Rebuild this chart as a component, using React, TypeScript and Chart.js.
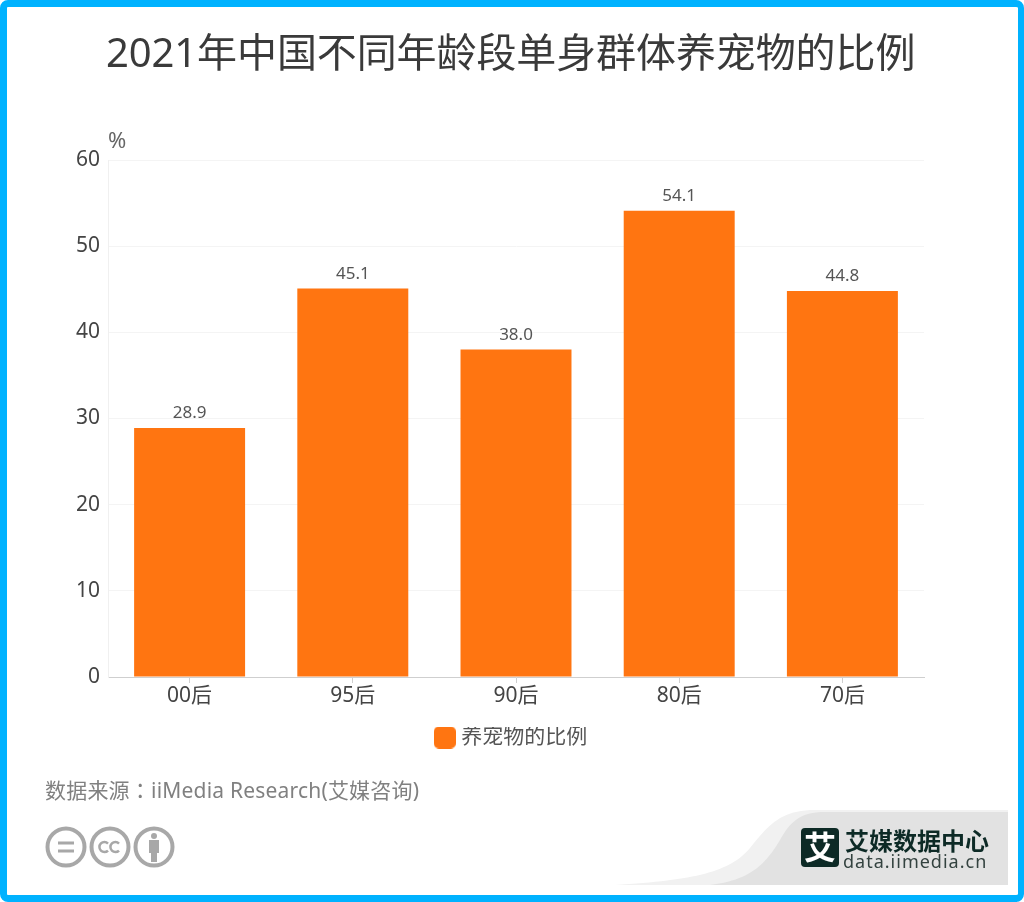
import React, { useRef, useEffect } from 'react';
import { Chart, registerables, Plugin } from 'chart.js';

Chart.register(...registerables);

const categories = ['00后', '95后', '90后', '80后', '70后'];
const petShare = [28.9, 45.1, 38.0, 54.1, 44.8];
const yTicks = [0, 10, 20, 30, 40, 50, 60];
const seriesName = '养宠物的比例';

const titleText = '2021年中国不同年龄段单身群体养宠物的比例';

const FONT = '"Noto Sans", "Noto Sans CJK SC", sans-serif';
const ORANGE = '#ff7511';
const BLUE = '#00b2ff';

// value labels above each bar
const barLabels: Plugin<'bar'> = {
  id: 'barLabels',
  afterDatasetsDraw(chart) {
    const { ctx } = chart;
    ctx.save();
    ctx.font = `17px ${FONT}`;
    ctx.fillStyle = '#555';
    ctx.textAlign = 'center';
    ctx.textBaseline = 'bottom';
    chart.getDatasetMeta(0).data.forEach((bar, i) => {
      ctx.fillText(petShare[i].toFixed(1), bar.x, bar.y - 6);
    });
    ctx.restore();
  },
};

// built-in legend centres on the chart area, the reference sits a little left of that
const legendShift: Plugin<'bar'> = {
  id: 'legendShift',
  afterLayout(chart) {
    if (chart.legend) {
      chart.legend.left -= 3;
      chart.legend.right -= 3;
    }
  },
};

// rounded swatch for the legend, the built-in rectRounded is too round
const makeSwatch = () => {
  const c = document.createElement('canvas');
  c.width = 22;
  c.height = 22;
  const g = c.getContext('2d')!;
  g.fillStyle = ORANGE;
  g.beginPath();
  g.roundRect(0, 0, 22, 22, 5);
  g.fill();
  return c;
};

const text = (left: number, top: number, size: number, color: string): React.CSSProperties => ({
  position: 'absolute',
  left,
  top,
  fontSize: size,
  lineHeight: 1,
  color,
  fontFamily: FONT,
  whiteSpace: 'nowrap',
});

const App: React.FC = () => {
  const canvasRef = useRef<HTMLCanvasElement | null>(null);

  useEffect(() => {
    const ctx = canvasRef.current?.getContext('2d');
    if (!ctx) return;

    const chart = new Chart(ctx, {
      type: 'bar',
      data: {
        labels: categories,
        datasets: [{
          label: seriesName,
          data: petShare,
          backgroundColor: ORANGE,
          barPercentage: 0.68,
          categoryPercentage: 1,
        }],
      },
      options: {
        responsive: false,
        animation: false,
        layout: { padding: { top: 160, right: 100, bottom: 144, left: 0 } },
        plugins: {
          tooltip: { enabled: false },
          legend: {
            position: 'bottom',
            fullSize: false,
            labels: {
              usePointStyle: true,
              pointStyle: makeSwatch(),
              pointStyleWidth: 12,
              boxHeight: 21,
              color: '#555',
              font: { family: FONT, size: 21 },
              padding: 0,
            },
          },
        },
        scales: {
          x: {
            grid: { drawOnChartArea: false, offset: false, color: '#cfcfcf', tickLength: 6 },
            border: { color: '#cfcfcf' },
            ticks: { color: '#444', font: { family: FONT, size: 21 }, padding: 0 },
            afterFit(scale) { scale.height = 50; },
          },
          y: {
            min: 0,
            max: 60,
            afterBuildTicks(scale) { scale.ticks = yTicks.map((value) => ({ value })); },
            grid: { color: '#f4f4f4', drawTicks: false },
            border: { color: '#f0f0f0' },
            ticks: { color: '#444', font: { family: FONT, size: 21 }, padding: 8 },
            afterFit(scale) { scale.width = 108; },
          },
        },
      },
      plugins: [barLabels, legendShift],
    });

    return () => chart.destroy();
  }, []);

  return (
    <div style={{ position: 'absolute', left: 0, top: 0, width: 1024, height: 902, background: '#fff', overflow: 'hidden' }}>
      <canvas ref={canvasRef} width={1024} height={902} style={{ position: 'absolute', left: 0, top: 0 }} />

      <div style={{ ...text(106, 32, 40, '#3a3a3a'), letterSpacing: -0.1 }}>{titleText}</div>
      <div style={text(108, 128, 22, '#666')}>%</div>
      <div style={{ ...text(45, 779, 21, '#808080'), letterSpacing: 0.2 }}>
        数据来源<span style={{ fontFamily: '"Noto Sans CJK TC"' }}>：</span>iiMedia Research(艾媒咨询)
      </div>

      {/* licence badges */}
      <svg width={132} height={44} style={{ position: 'absolute', left: 44, top: 825 }} fill="none" stroke="#a8a8a8" strokeWidth={4}>
        <circle cx={22} cy={22} r={18.5} />
        <circle cx={66} cy={22} r={18.5} />
        <circle cx={110} cy={22} r={18.5} />
        <path d="M14 18h16M14 26h16" strokeWidth={3} />
        <path d="M64 18.5a5 5 0 1 0 0 7M75 18.5a5 5 0 1 0 0 7" strokeWidth={2.5} />
        <circle cx={110} cy={11} r={3} fill="#a8a8a8" stroke="none" />
        <path d="M105 15h10v13h-2v9h-6v-9h-2z" fill="#a8a8a8" stroke="none" />
      </svg>

      {/* logo block */}
      <svg width={424} height={112} style={{ position: 'absolute', left: 600, top: 790 }}>
        <path d="M15 95C95 90 130 82 150 58C168 36 180 20 215 20H408V95Z" fill="#f1f1f1" />
        <path d="M110 95C150 90 165 75 180 50C190 32 200 22 225 22H408V95Z" fill="#e2e2e2" />
        <rect x={201} y={38} width={38} height={39} rx={4} fill="#0d2a26" />
      </svg>
      <div style={{ ...text(804, 831, 32, '#fff'), fontWeight: 700 }}>艾</div>
      <div style={{ ...text(845, 829, 24, '#0d2a26'), fontWeight: 700 }}>艾媒数据中心</div>
      <div style={{ ...text(843, 852, 18, '#33423f'), letterSpacing: 1 }}>data.iimedia.cn</div>

      {/* frame */}
      <div style={{ position: 'absolute', inset: 0, border: `7px solid ${BLUE}`, borderRightWidth: 6, borderRadius: 8, boxSizing: 'border-box' }} />
    </div>
  );
};

export default App;
